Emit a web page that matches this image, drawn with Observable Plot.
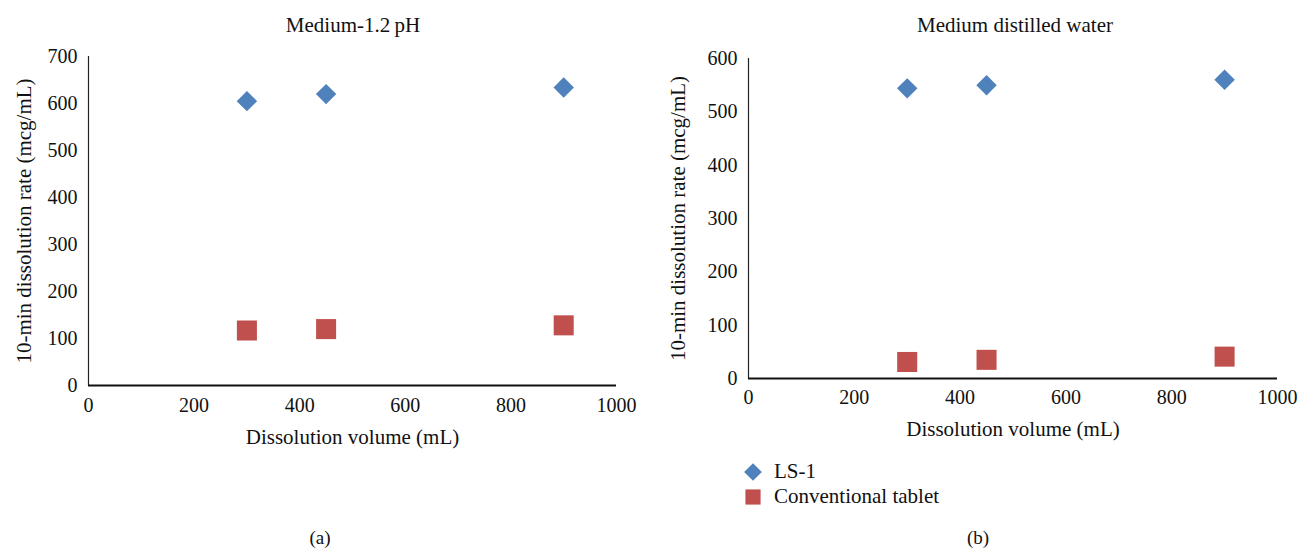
<!DOCTYPE html>
<html>
<head>
<meta charset="utf-8">
<script src="https://cdn.jsdelivr.net/npm/d3@7"></script>
<script src="https://cdn.jsdelivr.net/npm/@observablehq/plot@0.6"></script>
<style>
  html, body { margin: 0; padding: 0; background: #fff; }
  #root { position: relative; width: 1303px; height: 550px; font-family: "Liberation Serif", "DejaVu Serif", serif; color: #111; }
  .abs { position: absolute; }
  .title { font-size: 21px; transform: translateX(-50%); white-space: nowrap; }
  .cap { font-size: 19px; transform: translateX(-50%); }
  .legend { font-size: 21px; }
  .legend .row { display: flex; align-items: center; height: 25px; }
  .legend svg { margin-right: 12px; }
</style>
</head>
<body>
<div id="root"></div>
<script>
// ---- data ----
const volumes = [300, 450, 900];
const seriesNames = ["LS-1", "Conventional tablet"];
const seriesColors = ["#4F81BD", "#C0504D"];
const seriesSymbols = ["diamond2", "square"];
const acidLS1 = [605, 620, 634];
const acidConv = [117, 120, 128];
const waterLS1 = [544, 550, 560];
const waterConv = [31, 35, 41];
const xTicks = [0, 200, 400, 600, 800, 1000];
const yTicksA = [0, 100, 200, 300, 400, 500, 600, 700];
const yTicksB = [0, 100, 200, 300, 400, 500, 600];
const xLabel = "Dissolution volume (mL)";
const yLabel = "10-min dissolution rate (mcg/mL)";

function rows(ls1, conv) {
  return [
    ...volumes.map((v, i) => ({volume: v, value: ls1[i], series: seriesNames[0]})),
    ...volumes.map((v, i) => ({volume: v, value: conv[i], series: seriesNames[1]}))
  ];
}

const FONT = '"Liberation Serif", "DejaVu Serif", serif';

function panel(data, yTicks, opts) {
  const ymax = yTicks[yTicks.length - 1];
  return Plot.plot({
    width: opts.width, height: 460,
    marginLeft: opts.ml, marginRight: opts.mr, marginTop: opts.mt, marginBottom: 460 - opts.bottom,
    style: {fontFamily: FONT, fontSize: "20px", color: "#111", background: "transparent", overflow: "visible"},
    x: {domain: [0, 1000]},
    y: {domain: [0, ymax]},
    color: {domain: seriesNames, range: seriesColors},
    symbol: {domain: seriesNames, range: seriesSymbols},
    marks: [
      Plot.axisX({ticks: xTicks, tickFormat: d => String(d), tickSize: 0, tickPadding: opts.xpad, fontSize: 20, label: null}),
      Plot.axisX({ticks: [], tickSize: 0, label: xLabel, labelAnchor: "center", labelArrow: "none", labelOffset: opts.xlo, fontSize: 21}),
      Plot.axisY({ticks: yTicks, tickFormat: d => String(d), tickSize: 0, tickPadding: 11, fontSize: 20, label: null}),
      Plot.axisY({ticks: [], tickSize: 0, label: yLabel, labelAnchor: "center", labelArrow: "none", labelOffset: opts.ylo, fontSize: 21}),
      Plot.ruleX([0], {stroke: "#222", strokeWidth: 1.2}),
      Plot.ruleY([0], {stroke: "#111", strokeWidth: 2}),
      Plot.dot(data.filter(d => d.series === seriesNames[1]), {x: "volume", y: "value", symbol: "series", fill: "series", r: 11.3, stroke: "none"}),
      Plot.dot(data.filter(d => d.series === seriesNames[0]), {x: "volume", y: "value", symbol: "series", fill: "series", r: 9.2, stroke: "none"})
    ]
  });
}

const root = document.getElementById("root");

const a = panel(rows(acidLS1, acidConv), yTicksA, {width: 650, ml: 88, mr: 34, mt: 56, bottom: 385, xpad: 12, xlo: 58, ylo: 72});
a.style.position = "absolute"; a.style.left = "0px"; a.style.top = "0px";
root.appendChild(a);

const b = panel(rows(waterLS1, waterConv), yTicksB, {width: 653, ml: 98, mr: 26, mt: 58, bottom: 378, xpad: 11, xlo: 57, ylo: 78});
b.style.position = "absolute"; b.style.left = "650px"; b.style.top = "0px";
root.appendChild(b);

function addDiv(cls, text, left, top) {
  const d = document.createElement("div");
  d.className = "abs " + cls;
  d.textContent = text;
  d.style.left = left + "px"; d.style.top = top + "px";
  root.appendChild(d);
  return d;
}
addDiv("title", "Medium-1.2\u2009pH", 353, 13);
addDiv("title", "Medium distilled water", 1015, 13);
addDiv("cap", "(a)", 320, 527);
addDiv("cap", "(b)", 978, 527);

// legend
const leg = document.createElement("div");
leg.className = "abs legend";
leg.style.left = "744px"; leg.style.top = "459px";
seriesNames.forEach((name, i) => {
  const row = document.createElement("div");
  row.className = "row";
  const s = d3.create("svg").attr("width", 18).attr("height", 18);
  const sym = seriesSymbols[i] === "square" ? d3.symbolSquare : d3.symbolDiamond2;
  const size = seriesSymbols[i] === "square" ? 230 : 200;
  s.append("path").attr("transform", "translate(9,9)").attr("d", d3.symbol(sym, size)()).attr("fill", seriesColors[i]);
  row.appendChild(s.node());
  const t = document.createElement("span");
  t.textContent = name;
  row.appendChild(t);
  leg.appendChild(row);
});
root.appendChild(leg);
</script>
</body>
</html>
